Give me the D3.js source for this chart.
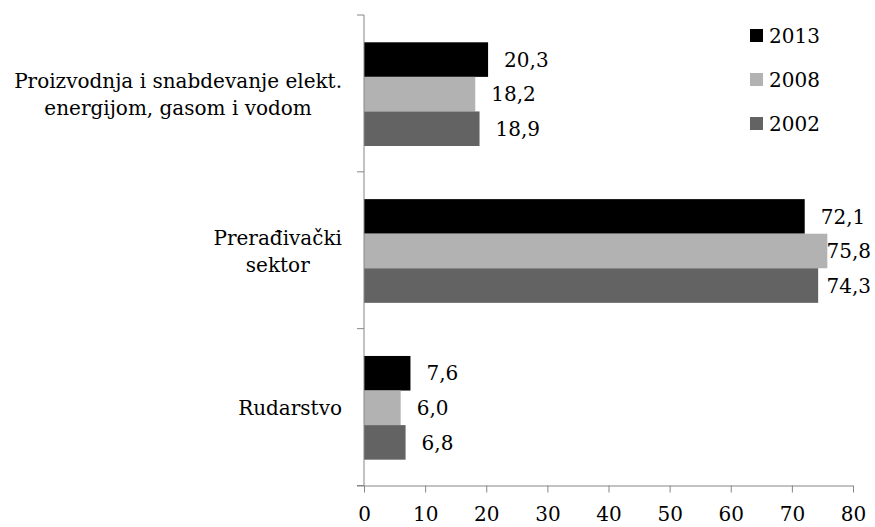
<!DOCTYPE html>
<html>
<head>
<meta charset="utf-8">
<script src="https://cdn.jsdelivr.net/npm/d3@7"></script>
<style>
  html, body { margin: 0; padding: 0; background: #ffffff; }
  svg { display: block; font-family: "DejaVu Serif", serif; }
</style>
</head>
<body>
<svg id="chart" width="875" height="527"></svg>
<script>
// Industry sectors (top to bottom) and their shares per year
const categories = [
  "Proizvodnja i snabdevanje elekt.\nenergijom, gasom i vodom",
  "Prerađivački\nsektor",
  "Rudarstvo"
];
const seriesNames = ["2013", "2008", "2002"];
const values2013 = [20.3, 72.1, 7.6];
const values2008 = [18.2, 75.8, 6.0];
const values2002 = [18.9, 74.3, 6.8];
const xTicks = [0, 10, 20, 30, 40, 50, 60, 70, 80];
const seriesColors = ["#000000", "#b2b2b2", "#636363"];

const seriesValues = [values2013, values2008, values2002];
const rows = categories.map((c, i) => ({
  category: c,
  bars: seriesNames.map((s, j) => ({ series: s, value: seriesValues[j][i] }))
}));

const svg = d3.select("#chart");
const axisColor = "#868686";
const fmt = v => d3.format(".1f")(v).replace(".", ",");

const x = d3.scaleLinear().domain([0, 80]).range([364, 853]);
const y = d3.scaleBand().domain(categories).range([15, 485.5]);
const inner = d3.scaleBand().domain(seriesNames)
  .range([27.3, 27.3 + 103.7]);

// Bars
const groups = svg.selectAll("g.cat").data(rows).join("g")
  .attr("class", "cat")
  .attr("transform", d => `translate(0,${y(d.category)})`);

groups.selectAll("rect").data(d => d.bars).join("rect")
  .attr("x", x(0))
  .attr("y", d => inner(d.series))
  .attr("width", d => x(d.value) - x(0))
  .attr("height", inner.bandwidth())
  .attr("fill", (d, i) => seriesColors[i]);

// Value labels, kept inside the right edge of the chart
const rightLimit = 871;
groups.selectAll("text.val").data(d => d.bars).join("text")
  .attr("class", "val")
  .attr("y", d => inner(d.series) + inner.bandwidth() / 2)
  .attr("dy", "0.36em")
  .attr("font-size", 20)
  .attr("fill", "#000")
  .text(d => fmt(d.value))
  .attr("x", function(d) {
    const w = this.getComputedTextLength();
    return Math.min(x(d.value) + 16, rightLimit - w);
  });

// Horizontal value axis
const xAxis = d3.axisBottom(x).tickValues(xTicks).tickSize(7).tickPadding(14)
  .tickFormat(d3.format("d"));
const gx = svg.append("g").attr("transform", `translate(0,${485.5})`).call(xAxis);
gx.select(".domain").attr("stroke", axisColor).attr("d", `M${x(0) - 7},0.5H${x(80)}`);
gx.selectAll(".tick line").attr("stroke", axisColor);
gx.selectAll(".tick text").attr("font-size", 20).attr("font-family", "DejaVu Serif")
  .attr("fill", "#000");

// Vertical category axis with tick marks between groups
const yEdges = [y.range()[0]].concat(categories.map(c => y(c) + y.bandwidth()));
const gy = svg.append("g");
gy.append("line")
  .attr("x1", x(0)).attr("x2", x(0))
  .attr("y1", y.range()[0]).attr("y2", y.range()[1])
  .attr("stroke", axisColor);
gy.selectAll("line.tk").data(yEdges).join("line")
  .attr("class", "tk")
  .attr("x1", x(0) - 7).attr("x2", x(0))
  .attr("y1", d => d).attr("y2", d => d)
  .attr("stroke", axisColor);

// Category labels: multi-line, centred within their block
const labelRight = 342;
const lineGap = 27;
categories.forEach(c => {
  const lines = c.split("\n");
  const t = svg.append("text")
    .attr("font-size", 20)
    .attr("fill", "#000")
    .attr("text-anchor", "middle");
  const cy = y(c) + 27.3 + 103.7 / 2;
  const top = cy - (lines.length - 1) * lineGap / 2;
  lines.forEach((ln, i) => {
    t.append("tspan").attr("x", 0).attr("y", top + i * lineGap)
      .attr("dy", "0.36em").text(ln);
  });
  const maxW = d3.max(t.selectAll("tspan").nodes(), n => n.getComputedTextLength());
  t.selectAll("tspan").attr("x", labelRight - maxW / 2);
});

// Legend
const legend = svg.append("g");
seriesNames.forEach((s, i) => {
  const cy = 35.5 + i * 44;
  legend.append("rect")
    .attr("x", 750).attr("y", cy - 6.5)
    .attr("width", 13).attr("height", 13)
    .attr("fill", seriesColors[i]);
  legend.append("text")
    .attr("x", 769).attr("y", cy).attr("dy", "0.36em")
    .attr("font-size", 20).attr("fill", "#000")
    .text(s);
});
</script>
</body>
</html>
